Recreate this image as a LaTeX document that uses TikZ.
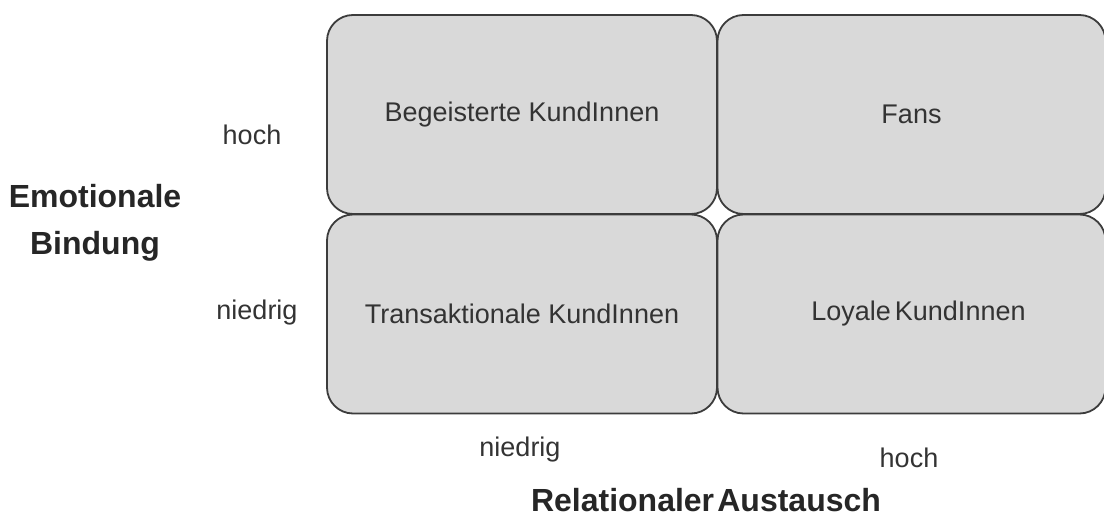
\documentclass[tikz,border=0pt]{standalone}
\usepackage{fontspec}
\setmainfont{Liberation Sans}
\begin{document}
\begin{tikzpicture}[x=1pt,y=-1pt,
  cell/.style={draw=boxline, fill=boxfill, line width=1.8pt, rounded corners=26pt,
    inner sep=0pt, text=labeltext, font=\fontsize{27}{30}\selectfont},
  level/.style={inner sep=0pt, text=labeltext, font=\fontsize{27}{30}\selectfont},
  axis/.style={inner sep=0pt, text=axistext, align=center,
    font=\fontsize{32}{47}\selectfont\bfseries}]
  \definecolor{boxfill}{HTML}{D9D9D9}
  \definecolor{boxline}{HTML}{3C3C3C}
  \definecolor{labeltext}{HTML}{333333}
  \definecolor{axistext}{HTML}{262626}
  \useasboundingbox (0,0) rectangle (1104,518);
  \clip (0,0) rectangle (1104,518);

  % four quadrants
  \node[cell, minimum width=390pt, minimum height=199pt] (tl) at (522,114.5) {Begeisterte KundInnen};
  \node[cell, minimum width=388pt, minimum height=199pt] (tr) at (911.5,114.5) {Fans};
  \node[cell, minimum width=390pt, minimum height=199pt] (bl) at (522,314) {Transaktionale KundInnen};
  \node[cell, minimum width=388pt, minimum height=199pt] (br) at (911.5,314) {\hspace*{14pt}Loyale\hspace{0.15em}KundInnen};

  % vertical axis
  \node[level] (yhi) at (252,135) {hoch};
  \node[level] (ylo) at (257,313) {niedrig};
  \node[axis] (ylab) at (95,223) {Emotionale\\Bindung};

  % horizontal axis
  \node[level] (xlo) at (520,450) {niedrig};
  \node[level] (xhi) at (909,458) {hoch};
  \node[axis] (xlab) at (706,500) {Relationaler\hspace{0.1em}Austausch};
\end{tikzpicture}
\end{document}
